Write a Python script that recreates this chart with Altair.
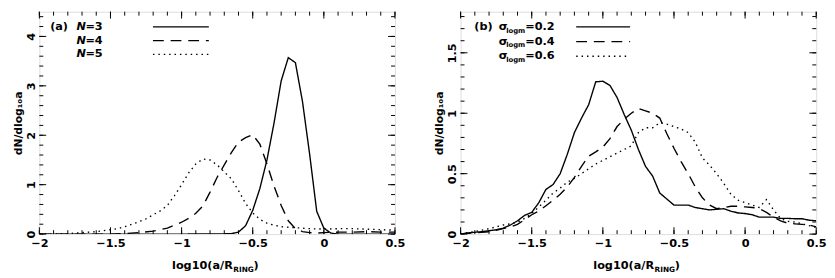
import altair as alt
import pandas as pd
import numpy as np

# ---------------- panel (a) data ----------------
a_n3_x = [-2.0, -1.0, -0.7, -0.65, -0.6, -0.55, -0.5, -0.45, -0.4, -0.35, -0.3, -0.25, -0.2, -0.15, -0.1, -0.05, 0.0, 0.05, 0.1, 0.5]
a_n3_y = [0.0, 0.0, 0.005, 0.01, 0.04, 0.17, 0.48, 0.92, 1.5, 2.25, 3.1, 3.57, 3.47, 2.68, 1.62, 0.46, 0.12, 0.02, 0.0, 0.0]

a_n4_x = [-2.0, -1.5, -1.4, -1.3, -1.2, -1.1, -1.0, -0.95, -0.9, -0.85, -0.8, -0.75, -0.7, -0.65, -0.6, -0.55, -0.5, -0.45, -0.4, -0.35, -0.3, -0.25, -0.2, -0.15, -0.1, -0.05, 0.0, 0.1, 0.2, 0.3, 0.4, 0.5]
a_n4_y = [0.0, 0.0, 0.01, 0.03, 0.06, 0.12, 0.24, 0.32, 0.42, 0.57, 0.85, 1.15, 1.4, 1.65, 1.86, 1.95, 2.01, 1.82, 1.42, 0.97, 0.58, 0.27, 0.11, 0.05, 0.03, 0.02, 0.03, 0.04, 0.04, 0.05, 0.04, 0.04]

a_n5_x = [-2.0, -1.8, -1.6, -1.5, -1.45, -1.4, -1.35, -1.3, -1.25, -1.2, -1.15, -1.1, -1.05, -1.0, -0.95, -0.9, -0.85, -0.8, -0.75, -0.7, -0.65, -0.6, -0.55, -0.5, -0.45, -0.4, -0.35, -0.3, -0.2, -0.1, 0.0, 0.1, 0.2, 0.3, 0.4, 0.5]
a_n5_y = [0.0, 0.01, 0.05, 0.09, 0.11, 0.15, 0.2, 0.25, 0.31, 0.39, 0.47, 0.58, 0.78, 1.0, 1.24, 1.42, 1.52, 1.5, 1.4, 1.26, 1.12, 0.88, 0.62, 0.43, 0.3, 0.22, 0.18, 0.15, 0.13, 0.11, 0.1, 0.11, 0.11, 0.1, 0.09, 0.08]

# ---------------- panel (b) data ----------------
b_s2_x = [-2.0, -1.95, -1.9, -1.85, -1.8, -1.75, -1.7, -1.65, -1.6, -1.55, -1.5, -1.45, -1.4, -1.35, -1.3, -1.25, -1.2, -1.15, -1.1, -1.05, -1.0, -0.95, -0.9, -0.85, -0.8, -0.75, -0.7, -0.65, -0.6, -0.55, -0.5, -0.45, -0.4, -0.35, -0.3, -0.25, -0.2, -0.15, -0.1, -0.05, 0.0, 0.05, 0.1, 0.15, 0.2, 0.25, 0.3, 0.35, 0.4, 0.45, 0.5]
b_s2_y = [0.0, 0.01, 0.015, 0.02, 0.028, 0.035, 0.05, 0.075, 0.11, 0.155, 0.18, 0.26, 0.37, 0.41, 0.5, 0.66, 0.84, 0.96, 1.07, 1.26, 1.265, 1.23, 1.13, 0.99, 0.86, 0.7, 0.56, 0.48, 0.34, 0.29, 0.24, 0.24, 0.24, 0.22, 0.21, 0.2, 0.205, 0.21, 0.19, 0.175, 0.17, 0.16, 0.14, 0.14, 0.14, 0.13, 0.13, 0.127, 0.127, 0.115, 0.11]

b_s4_x = [-2.0, -1.9, -1.8, -1.7, -1.65, -1.6, -1.55, -1.5, -1.45, -1.4, -1.35, -1.3, -1.25, -1.2, -1.15, -1.1, -1.05, -1.0, -0.95, -0.9, -0.85, -0.8, -0.75, -0.7, -0.65, -0.6, -0.55, -0.5, -0.45, -0.4, -0.35, -0.3, -0.25, -0.2, -0.15, -0.1, -0.05, 0.0, 0.05, 0.1, 0.15, 0.2, 0.25, 0.3, 0.35, 0.4, 0.45, 0.5]
b_s4_y = [0.0, 0.01, 0.02, 0.045, 0.06, 0.08, 0.12, 0.16, 0.19, 0.235, 0.28, 0.33, 0.39, 0.47, 0.56, 0.645, 0.68, 0.72, 0.79, 0.89, 0.95, 1.0, 1.04, 1.02, 1.0, 0.96, 0.83, 0.71, 0.6, 0.5, 0.39, 0.3, 0.24, 0.21, 0.22, 0.23, 0.23, 0.225, 0.22, 0.21, 0.18, 0.14, 0.11, 0.09, 0.085, 0.08, 0.075, 0.06]

b_s6_x = [-2.0, -1.95, -1.9, -1.8, -1.7, -1.65, -1.6, -1.55, -1.5, -1.45, -1.4, -1.35, -1.3, -1.25, -1.2, -1.15, -1.1, -1.05, -1.0, -0.95, -0.9, -0.85, -0.8, -0.75, -0.7, -0.65, -0.6, -0.55, -0.5, -0.45, -0.4, -0.35, -0.3, -0.25, -0.2, -0.15, -0.1, -0.05, 0.0, 0.05, 0.1, 0.15, 0.2, 0.25, 0.3, 0.35, 0.4, 0.45, 0.5]
b_s6_y = [0.0, 0.012, 0.022, 0.045, 0.075, 0.085, 0.1, 0.13, 0.17, 0.225, 0.28, 0.34, 0.38, 0.43, 0.46, 0.5, 0.54, 0.58, 0.61, 0.64, 0.67, 0.7, 0.73, 0.84, 0.88, 0.88, 0.92, 0.91, 0.89, 0.87, 0.84, 0.76, 0.63, 0.57, 0.5, 0.42, 0.33, 0.28, 0.26, 0.24, 0.22, 0.285, 0.2, 0.13, 0.105, 0.1, 0.085, 0.07, 0.055]

x_ticks_major = [-2.0, -1.5, -1.0, -0.5, 0.0, 0.5]
a_y_major = [0, 1, 2, 3, 4]
b_y_major = [0, 0.5, 1.0, 1.5]

a_names = ["N=3", "N=4", "N=5"]
b_names = ["0.2", "0.4", "0.6"]

W, H = 363, 227
FONT = "DejaVu Sans"
DASHES = [[1, 0], [11, 7], [1.5, 4]]
MAJ, MIN = 7, 4


def ticks(vals):
    return pd.DataFrame({"v": vals})


def panel(series, names, ydom, ymajor, yminor_step, ytitle, legend_layers, title_cx):
    xs = alt.Scale(domain=[-2, 0.5], nice=False, zero=False)
    ys = alt.Scale(domain=ydom, nice=False, zero=False)
    xaxis = alt.Axis(values=x_ticks_major, format="~g", title=None, ticks=False, domain=False,
                     grid=False, labelPadding=4, labelFontSize=11.5, labelFont=FONT, labelFlush=False,
                     labelFontWeight="bold", labelColor="black")
    yaxis = alt.Axis(values=ymajor, format="~g", title=ytitle, ticks=False, domain=False,
                     grid=False, labelAngle=270, labelAlign="center", labelBaseline="bottom",
                     labelFlush=False,
                     labelPadding=3, labelFontSize=11.5, labelFont=FONT, labelFontWeight="bold",
                     labelColor="black", titleFont=FONT, titleFontSize=11, titleFontWeight="bold",
                     titleColor="black", titlePadding=2)
    rows = []
    for (xv, yv), n in zip(series, names):
        for a, b in zip(xv, yv):
            rows.append({"x": a, "y": b, "s": n})
    df = pd.DataFrame(rows)
    lines = alt.Chart(df).mark_line(color="black", strokeWidth=1.4, clip=True).encode(
        x=alt.X("x:Q", scale=xs, axis=xaxis),
        y=alt.Y("y:Q", scale=ys, axis=yaxis),
        strokeDash=alt.StrokeDash("s:N", scale=alt.Scale(domain=names, range=DASHES), legend=None),
        detail="s:N",
    )
    xminor = [round(v, 2) for v in np.arange(-2.0, 0.5001, 0.1)]
    ymin = [round(v, 2) for v in np.arange(ydom[0], ydom[1] + 1e-9, yminor_step)]
    layers = [lines]
    rule = dict(color="black", strokeWidth=1)
    for vals, ln in ((x_ticks_major, MAJ), (xminor, MIN)):
        X = alt.X("v:Q", scale=xs, axis=xaxis)
        layers.append(alt.Chart(ticks(vals)).mark_rule(**rule).encode(x=X, y=alt.value(H), y2=alt.value(H - ln)))
        layers.append(alt.Chart(ticks(vals)).mark_rule(**rule).encode(x=X, y=alt.value(0), y2=alt.value(ln)))
    for vals, ln in ((ymajor, MAJ), (ymin, MIN)):
        Y = alt.Y("v:Q", scale=ys, axis=yaxis)
        layers.append(alt.Chart(ticks(vals)).mark_rule(**rule).encode(y=Y, x=alt.value(0), x2=alt.value(ln)))
        layers.append(alt.Chart(ticks(vals)).mark_rule(**rule).encode(y=Y, x=alt.value(W - ln), x2=alt.value(W)))
    layers += legend_layers
    # x-axis title with subscript
    one = pd.DataFrame({"a": [0]})
    ty = H + 33
    layers.append(alt.Chart(one).mark_text(font=FONT, fontSize=11.5, fontWeight="bold", align="right",
                                           baseline="middle", color="black").encode(
        x=alt.value(title_cx + 16), y=alt.value(ty), text=alt.value("log10(a/R")))
    layers.append(alt.Chart(one).mark_text(font=FONT, fontSize=7.5, fontWeight="bold", align="left",
                                           baseline="middle", color="black").encode(
        x=alt.value(title_cx + 16.5), y=alt.value(ty + 4), text=alt.value("RING")))
    layers.append(alt.Chart(one).mark_text(font=FONT, fontSize=11.5, fontWeight="bold", align="left",
                                           baseline="middle", color="black").encode(
        x=alt.value(title_cx + 37), y=alt.value(ty), text=alt.value(")")))
    return alt.layer(*layers).properties(width=W, height=H)


one = pd.DataFrame({"a": [0]})


def txt(s, x, y, size=11.5, style="normal", align="left"):
    return alt.Chart(one).mark_text(font=FONT, fontSize=size, fontWeight="bold", fontStyle=style,
                                    align=align, baseline="middle", color="black").encode(
        x=alt.value(x), y=alt.value(y), text=alt.value(s))


def sample(x1, x2, y, dash):
    return alt.Chart(one).mark_rule(color="black", strokeWidth=1.4, strokeDash=dash).encode(
        x=alt.value(x1), x2=alt.value(x2), y=alt.value(y))


leg_a = [txt("(a)", 11, 15.5)]
for i, n in enumerate(a_names):
    yy = 15.5 + 14 * i
    leg_a.append(txt("N", 38, yy, style="italic"))
    leg_a.append(txt(n[1:], 47, yy))
    leg_a.append(sample(116, 173, yy, DASHES[i]))

leg_b = [txt("(b)", 14, 15.5)]
for i, n in enumerate(b_names):
    yy = 15.5 + 15 * i
    leg_b.append(txt("σ", 39, yy))
    leg_b.append(txt("logm", 46.5, yy + 4, size=7))
    leg_b.append(txt("=" + n, 66, yy))
    leg_b.append(sample(118, 173, yy, DASHES[i]))

pa = panel([(a_n3_x, a_n3_y), (a_n4_x, a_n4_y), (a_n5_x, a_n5_y)], a_names, [0, 4.5],
           a_y_major, 0.2, "dN/dlog₁₀a", leg_a, W / 2)
pb = panel([(b_s2_x, b_s2_y), (b_s4_x, b_s4_y), (b_s6_x, b_s6_y)], b_names, [0, 1.84],
           b_y_major, 0.1, "dN/dlog₁₀a", leg_b, W / 2)

chart = alt.hconcat(pa, pb, spacing=28).properties(
    padding={"left": 4, "top": 0, "right": 0, "bottom": 0}
).configure_view(stroke="black", strokeWidth=1).configure(background="white")

chart.save("out.html", embed_options={"renderer": "svg", "actions": False})
